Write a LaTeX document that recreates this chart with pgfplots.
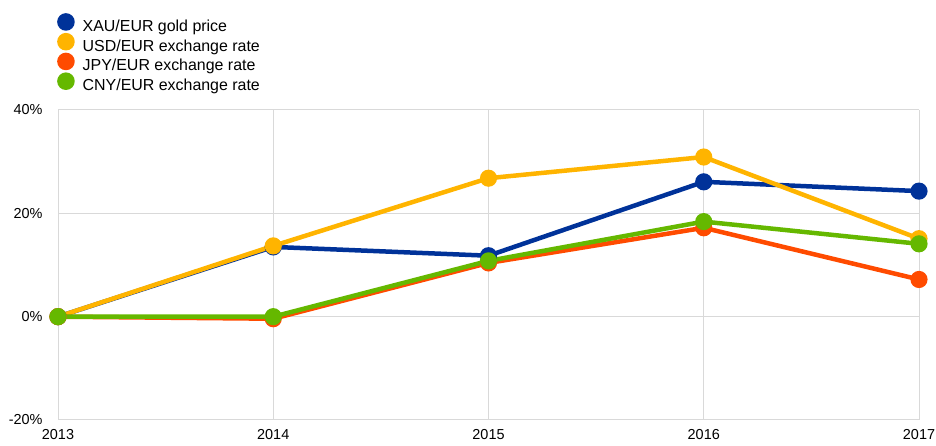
\documentclass[border=0pt]{standalone}
\usepackage{pgfplots}
\pgfplotsset{compat=1.18}
\usepackage{fontspec}
\setmainfont{Liberation Sans}
\definecolor{cXAU}{HTML}{003299}
\definecolor{cUSD}{HTML}{FFB400}
\definecolor{cJPY}{HTML}{FF4B00}
\definecolor{cCNY}{HTML}{65B800}
\definecolor{cgrid}{HTML}{D9D9D9}
\begin{document}
\begin{tikzpicture}
\begin{axis}[
  scale only axis,
  width=861bp, height=310bp,
  xmin=2013, xmax=2017,
  ymin=-20, ymax=40,
  xtick={2013,2014,2015,2016,2017},
  ytick={-20,0,20,40},
  xticklabel={\pgfmathprintnumber[1000 sep={},fixed]{\tick}},
  yticklabel={\pgfmathprintnumber{\tick}\%},
  /pgf/number format/assume math mode=true,
  tick label style={font=\fontsize{14.5}{16}\selectfont, black},
  xmajorgrids, ymajorgrids,
  grid style={cgrid, line width=1bp},
  axis line style={cgrid, line width=1bp},
  axis x line*=bottom, axis y line*=left,
  major tick length=0pt,
  xticklabel style={yshift=-6bp},
  yticklabel style={xshift=-12bp},
  every axis plot/.append style={line width=4.5bp, mark=*, mark size=6.3bp},
  clip=false,
  legend style={at={(0,1)}, anchor=north west, xshift=-1bp, yshift=97bp, draw=none, fill=none,
    font=\fontsize{16}{18}\selectfont, row sep=-1.5bp, column sep=8bp, inner sep=0pt,
    nodes={inner sep=0bp, text height=11bp, text depth=3bp},
    legend cell align=left},
  legend image code/.code={\fill (6.5bp,5.5bp) circle (6.5bp);},
]
\coordinate (sw) at (rel axis cs:0,0);
\addplot[color=cXAU, mark options={fill=cXAU}] coordinates {(2013,0) (2014,13.5) (2015,11.8) (2016,26.1) (2017,24.3)};
\addlegendentry{XAU/EUR gold price}
\addplot[color=cUSD, mark options={fill=cUSD}] coordinates {(2013,0) (2014,13.7) (2015,26.8) (2016,30.9) (2017,15.1)};
\addlegendentry{USD/EUR exchange rate}
\addplot[color=cJPY, mark options={fill=cJPY}] coordinates {(2013,0) (2014,-0.4) (2015,10.4) (2016,17.2) (2017,7.2)};
\addlegendentry{JPY/EUR exchange rate}
\addplot[color=cCNY, mark options={fill=cCNY}] coordinates {(2013,0) (2014,0) (2015,10.8) (2016,18.4) (2017,14.1)};
\addlegendentry{CNY/EUR exchange rate}
\end{axis}
\pgfresetboundingbox
\path[use as bounding box] ([xshift=-58bp,yshift=-26bp]sw) rectangle ++(936bp,446bp);
\end{tikzpicture}
\end{document}
